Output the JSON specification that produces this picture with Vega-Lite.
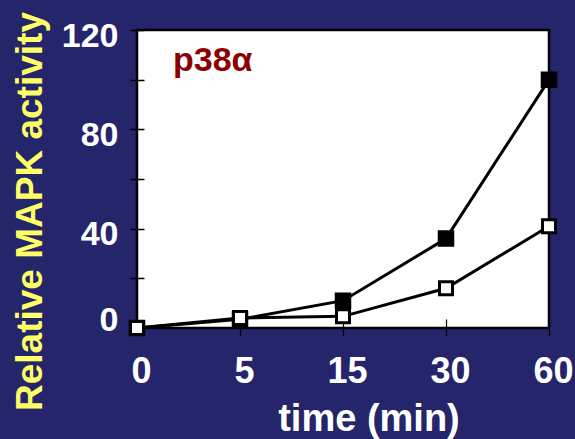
{
  "$schema": "https://vega.github.io/schema/vega-lite/v6.json",
  "width": 412,
  "height": 298,
  "autosize": {"type": "none"},
  "padding": {"left": 137, "top": 30, "right": 26, "bottom": 111},
  "background": "#24256B",
  "config": {
    "view": {"fill": "white", "stroke": "black", "strokeWidth": 2.5},
    "font": "Liberation Sans"
  },
  "data": {
    "values": [
      {"time": 0, "series": "solid", "value": 0},
      {"time": 5, "series": "solid", "value": 3.5},
      {"time": 15, "series": "solid", "value": 11},
      {"time": 30, "series": "solid", "value": 36},
      {"time": 60, "series": "solid", "value": 100},
      {"time": 0, "series": "open", "value": 0},
      {"time": 5, "series": "open", "value": 4},
      {"time": 15, "series": "open", "value": 4.7},
      {"time": 30, "series": "open", "value": 16},
      {"time": 60, "series": "open", "value": 41}
    ]
  },
  "encoding": {
    "x": {
      "field": "time",
      "type": "ordinal",
      "scale": {"type": "point", "padding": 0},
      "axis": {
        "title": "time (min)",
        "values": [0, 5, 15, 30, 60],
        "domain": false,
        "grid": false,
        "offset": -9,
        "tickSize": 16.5,
        "tickWidth": 1.2,
        "tickColor": "black",
        "labelPadding": 19,
        "labelFontSize": 36,
        "labelFontWeight": "bold",
        "labelColor": "white",
        "labelAngle": 0,
        "labelOffset": 4,
        "labelOverlap": false,
        "titleFontSize": 38,
        "titleFontWeight": "bold",
        "titleColor": "white",
        "titleX": 231.5,
        "titleY": 111,
        "titleBaseline": "alphabetic",
        "titleAlign": "center"
      }
    },
    "y": {
      "field": "value",
      "type": "quantitative",
      "scale": {"domain": [0, 120], "nice": false},
      "axis": {
        "title": "Relative MAPK activity",
        "values": [0, 20, 40, 60, 80, 100, 120],
        "labelExpr": "datum.value % 40 == 0 ? datum.label : ''",
        "domain": false,
        "grid": false,
        "offset": -7,
        "tickSize": 14,
        "tickWidth": 1.5,
        "tickColor": "black",
        "labelPadding": 12,
        "labelFontSize": 34,
        "labelFontWeight": "bold",
        "labelColor": "white",
        "labelBaseline": "middle",
        "labelOffset": {"condition": {"test": "datum.value == 0", "value": -8}, "value": 6},
        "labelOverlap": false,
        "labelFlush": false,
        "titleFontSize": 37,
        "titleFontWeight": "bold",
        "titleColor": "#FFFF66",
        "titleX": -103,
        "titleY": 181,
        "titleAngle": 270,
        "titleBaseline": "alphabetic",
        "titleAlign": "center"
      }
    }
  },
  "layer": [
    {
      "mark": {"type": "line", "color": "black", "strokeWidth": 3},
      "encoding": {"detail": {"field": "series"}}
    },
    {
      "transform": [{"filter": "datum.series == 'solid'"}],
      "mark": {"type": "point", "shape": "square", "filled": true, "color": "black", "stroke": "black", "strokeWidth": 1.5, "size": 225, "opacity": 1}
    },
    {
      "transform": [{"filter": "datum.series == 'open'"}],
      "mark": {"type": "point", "shape": "square", "filled": true, "fill": "white", "stroke": "black", "strokeWidth": 3, "size": 169, "opacity": 1}
    },
    {
      "transform": [{"filter": "datum.series == 'solid' && datum.time == 0"}],
      "mark": {"type": "text", "text": "p38α", "align": "left", "baseline": "alphabetic", "dx": 36, "font": "Liberation Sans", "fontSize": 34, "fontWeight": "bold", "fill": "#8B0000", "opacity": 1},
      "encoding": {
        "y": {"datum": 103.5, "type": "quantitative"}
      }
    }
  ]
}
